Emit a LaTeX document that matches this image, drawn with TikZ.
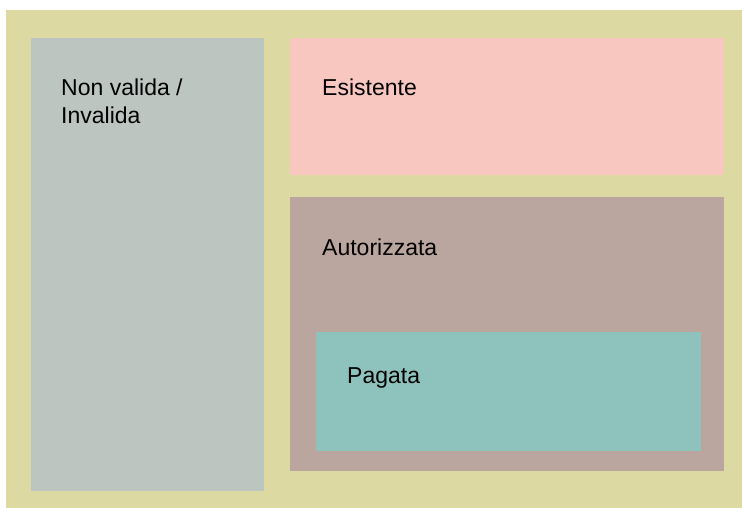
\documentclass[tikz,border=0pt]{standalone}
\usepackage{fontspec}
\setmainfont{Liberation Sans}
\usepackage{tikz}

\definecolor{bgyellow}{RGB}{220,218,162}
\definecolor{invgray}{RGB}{189,197,193}
\definecolor{espink}{RGB}{247,199,192}
\definecolor{autbrown}{RGB}{186,166,158}
\definecolor{pagteal}{RGB}{141,195,188}

\begin{document}
\begin{tikzpicture}[x=1pt,y=-1pt,
    lbl/.style={anchor=base west,inner sep=0pt,font=\fontsize{23}{28}\selectfont,align=left}]
  \useasboundingbox (0,0) rectangle (742,508);
  \fill[bgyellow] (6,10) rectangle (742,508);

  % sets
  \fill[invgray] (31,38) rectangle (264,491);
  \fill[espink] (290,38) rectangle (724,175);
  \fill[autbrown] (290,197) rectangle (724,471);
  \fill[pagteal] (316,332) rectangle (701,451);

  \node[lbl] (inval) at (61,124) {Non valida /\\Invalida};
  \node[lbl] (esist) at (322,96) {Esistente};
  \node[lbl] (autor) at (322,255) {Autorizzata};
  \node[lbl] (pagata) at (347,383) {Pagata};
\end{tikzpicture}
\end{document}
